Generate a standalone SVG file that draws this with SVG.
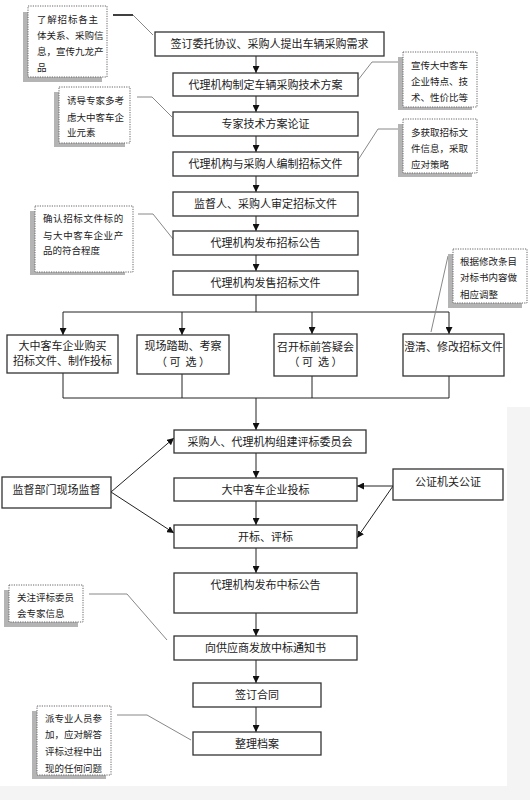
<svg xmlns="http://www.w3.org/2000/svg" width="530" height="800" viewBox="0 0 530 800">
<defs>
<marker id="ah" markerWidth="7" markerHeight="7" refX="7" refY="3.5" orient="auto" markerUnits="userSpaceOnUse">
<path d="M0,0 L7,3.5 L0,7 Z" fill="#111"/>
</marker>
<style>
.box{fill:#fff;stroke:#333;stroke-width:1.3}
.t{font-family:"Noto Sans CJK SC","Noto Sans",sans-serif;font-size:11px;fill:#222;text-anchor:middle}
.n{font-family:"Noto Sans CJK SC","Noto Sans",sans-serif;font-size:9.5px;fill:#222}
.sh{fill:#b4b4b4}
.note{fill:#fff;stroke:#666;stroke-width:1;stroke-dasharray:1.2,1.2}
.ln{fill:none;stroke:#222;stroke-width:1}
.ar{fill:none;stroke:#222;stroke-width:1;marker-end:url(#ah)}
.cl{fill:none;stroke:#888;stroke-width:1}
</style>
</defs>
<rect x="0" y="0" width="530" height="800" fill="#f4f4f4"/>
<rect x="0" y="0" width="530" height="407" fill="#fff"/>
<rect x="0" y="0" width="507" height="786" fill="#fff"/>

<g id="connectors">
<line class="ar" x1="256" y1="56" x2="256" y2="73"/>
<line class="ar" x1="256" y1="96" x2="256" y2="112"/>
<line class="ar" x1="256" y1="136" x2="256" y2="152"/>
<line class="ar" x1="256" y1="176" x2="256" y2="192"/>
<line class="ar" x1="256" y1="216" x2="256" y2="231"/>
<line class="ar" x1="256" y1="255" x2="256" y2="271"/>
<line class="ln" x1="256" y1="295" x2="256" y2="312"/>
<line class="ln" x1="63" y1="312" x2="449" y2="312"/>
<line class="ar" x1="63" y1="312" x2="63" y2="335"/>
<line class="ar" x1="182" y1="312" x2="182" y2="335"/>
<line class="ar" x1="312" y1="312" x2="312" y2="334"/>
<line class="ar" x1="449" y1="312" x2="449" y2="334"/>
<line class="ln" x1="63" y1="373" x2="63" y2="398"/>
<line class="ln" x1="182" y1="374" x2="182" y2="398"/>
<line class="ln" x1="312" y1="376" x2="312" y2="398"/>
<line class="ln" x1="449" y1="376" x2="449" y2="398"/>
<line class="ln" x1="63" y1="398" x2="449" y2="398"/>
<line class="ar" x1="256" y1="398" x2="256" y2="430"/>
<line class="ar" x1="256" y1="453" x2="256" y2="478"/>
<line class="ar" x1="256" y1="501" x2="256" y2="525"/>
<line class="ar" x1="256" y1="548" x2="256" y2="573"/>
<line class="ar" x1="256" y1="613" x2="256" y2="636"/>
<line class="ar" x1="256" y1="660" x2="256" y2="683"/>
<line class="ar" x1="256" y1="707" x2="256" y2="732"/>
<line class="ar" x1="111" y1="492" x2="174" y2="438"/>
<line class="ar" x1="111" y1="492" x2="174" y2="533"/>
<line class="ar" x1="393" y1="486" x2="357" y2="486"/>
<line class="ar" x1="393" y1="486" x2="357" y2="538"/>
<line x1="113" y1="15" x2="133" y2="15" stroke="#111" stroke-width="1.6"/>
<polyline class="cl" points="133,15 153,35"/>
<polyline class="cl" points="137,97 152,97 172,117"/>
<polyline class="cl" points="358,80 372,62 400,62"/>
<polyline class="cl" points="358,160 378,129 400,129"/>
<polyline class="cl" points="138,214 153,214 173,239"/>
<polyline class="cl" points="448,256 431,332"/>
<polyline class="cl" points="89,594 127,594 167,640"/>
<polyline class="cl" points="117,715 147,715 191,740"/>
</g>

<g id="n1"><rect class="box" x="155" y="32" width="229" height="24"/><text class="t" x="269.5" y="48">签订委托协议、采购人提出车辆采购需求</text></g>
<g id="n2"><rect class="box" x="173" y="73" width="185" height="23"/><text class="t" x="265.5" y="88.5">代理机构制定车辆采购技术方案</text></g>
<g id="n3"><rect class="box" x="173" y="112" width="185" height="24"/><text class="t" x="265.5" y="128">专家技术方案论证</text></g>
<g id="n4"><rect class="box" x="173" y="152" width="185" height="24"/><text class="t" x="265.5" y="168">代理机构与采购人编制招标文件</text></g>
<g id="n5"><rect class="box" x="173" y="192" width="185" height="24"/><text class="t" x="265.5" y="208">监督人、采购人审定招标文件</text></g>
<g id="n6"><rect class="box" x="173" y="231" width="185" height="24"/><text class="t" x="265.5" y="247">代理机构发布招标公告</text></g>
<g id="n7"><rect class="box" x="173" y="271" width="185" height="24"/><text class="t" x="265.5" y="287">代理机构发售招标文件</text></g>

<g id="b1"><rect class="box" x="7" y="335" width="111" height="38"/><text class="t" x="62.5" y="350">大中客车企业购买</text><text class="t" x="62.5" y="365">招标文件、制作投标</text></g>
<g id="b2"><rect class="box" x="137" y="335" width="92" height="39"/><text class="t" x="183" y="350">现场踏勘、考察</text><text class="t" x="183" y="366" xml:space="preserve">（ 可  选 ）</text></g>
<g id="b3"><rect class="box" x="274" y="334" width="83" height="42"/><text class="t" x="315.5" y="351">召开标前答疑会</text><text class="t" x="315.5" y="366" xml:space="preserve">（ 可  选 ）</text></g>
<g id="b4"><rect class="box" x="403" y="334" width="101" height="42"/><text class="t" x="453.5" y="351">澄清、修改招标文件</text></g>

<g id="n8"><rect class="box" x="174" y="430" width="192" height="23"/><text class="t" x="270" y="445.5">采购人、代理机构组建评标委员会</text></g>
<g id="n9"><rect class="box" x="174" y="478" width="183" height="23"/><text class="t" x="265.5" y="493.5">大中客车企业投标</text></g>
<g id="n10"><rect class="box" x="174" y="525" width="183" height="23"/><text class="t" x="265.5" y="540.5">开标、评标</text></g>
<g id="s1"><rect class="box" x="2" y="477" width="109" height="31"/><text class="t" x="56.5" y="494">监督部门现场监督</text></g>
<g id="s2"><rect class="box" x="393" y="469" width="110" height="31"/><text class="t" x="448" y="486">公证机关公证</text></g>
<g id="n11"><rect class="box" x="174" y="573" width="183" height="40"/><text class="t" x="265.5" y="589">代理机构发布中标公告</text></g>
<g id="n12"><rect class="box" x="174" y="636" width="183" height="24"/><text class="t" x="265.5" y="652">向供应商发放中标通知书</text></g>
<g id="n13"><rect class="box" x="193" y="683" width="128" height="24"/><text class="t" x="257" y="699">签订合同</text></g>
<g id="n14"><rect class="box" x="193" y="732" width="128" height="23"/><text class="t" x="257" y="747.5">整理档案</text></g>

<g id="c1"><rect class="sh" x="23" y="12" width="79" height="70"/><rect class="note" x="28" y="6" width="79" height="71"/>
<text class="n" x="37" y="23" letter-spacing="0.8">了解招标各主</text><text class="n" x="37" y="39">体关系、采购信</text><text class="n" x="37" y="55">息，宣传九龙产</text><text class="n" x="37" y="71">品</text></g>
<g id="c2"><rect class="sh" x="54" y="92" width="71" height="55"/><rect class="note" x="59" y="87" width="71" height="56"/>
<text class="n" x="67" y="104">诱导专家多考</text><text class="n" x="67" y="121">虑大中客车企</text><text class="n" x="67" y="136">业元素</text></g>
<g id="c3"><rect class="sh" x="398" y="57" width="74" height="53"/><rect class="note" x="403" y="52" width="74" height="55"/>
<text class="n" x="411" y="69">宣传大中客车</text><text class="n" x="411" y="85">企业特点、技</text><text class="n" x="411" y="101">术、性价比等</text></g>
<g id="c4"><rect class="sh" x="398" y="124" width="74" height="53"/><rect class="note" x="403" y="119" width="74" height="54"/>
<text class="n" x="411" y="136">多获取招标文</text><text class="n" x="411" y="152">件信息，采取</text><text class="n" x="411" y="168">应对策略</text></g>
<g id="c5"><rect class="sh" x="30" y="211" width="95" height="64"/><rect class="note" x="35" y="206" width="98" height="66"/>
<text class="n" x="43" y="222" letter-spacing="0.6">确认招标文件标的</text><text class="n" x="43" y="239" letter-spacing="0.6">与大中客车企业产</text><text class="n" x="43" y="254">品的符合程度</text></g>
<g id="c6"><rect class="sh" x="448" y="254" width="74" height="54"/><rect class="note" x="453" y="249" width="74" height="54"/>
<text class="n" x="460" y="265">根据修改条目</text><text class="n" x="460" y="281">对标书内容做</text><text class="n" x="460" y="298">相应调整</text></g>
<g id="c7"><rect class="sh" x="4" y="590" width="74" height="37"/><rect class="note" x="9" y="585" width="74" height="37"/>
<text class="n" x="17" y="601">关注评标委员</text><text class="n" x="17" y="617">会专家信息</text></g>
<g id="c8"><rect class="sh" x="32" y="711" width="74" height="68"/><rect class="note" x="37" y="706" width="74" height="69"/>
<text class="n" x="45" y="722">派专业人员参</text><text class="n" x="45" y="738">加，应对解答</text><text class="n" x="45" y="755">评标过程中出</text><text class="n" x="45" y="772">现的任何问题</text></g>
</svg>
